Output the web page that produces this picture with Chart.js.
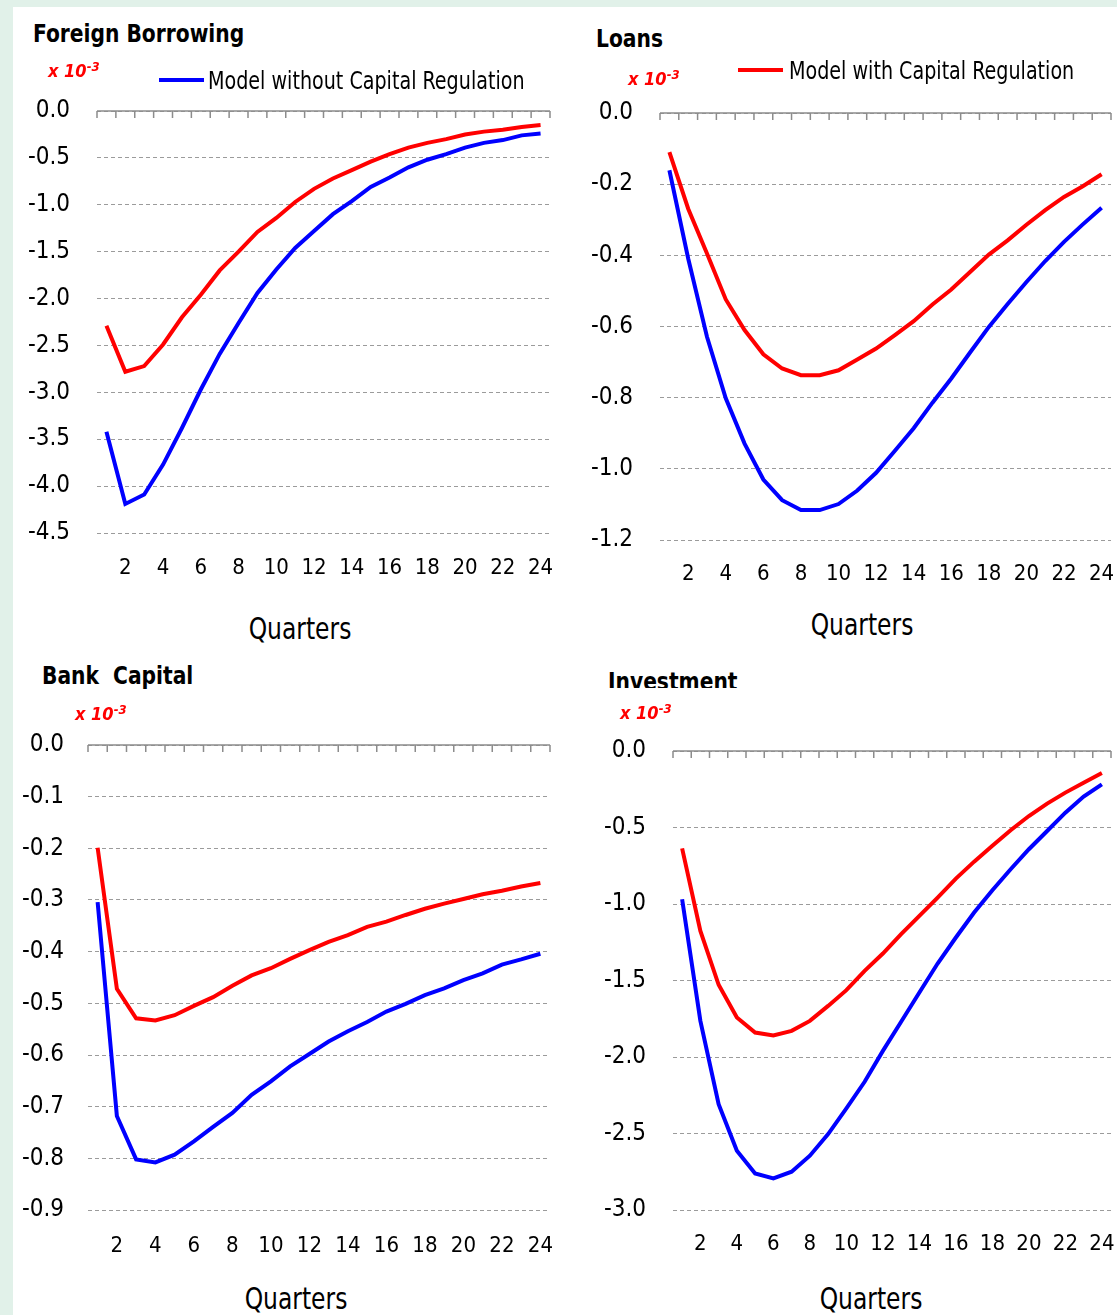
<html><head>
<meta charset="UTF-8">
<title>Impulse responses: with and without capital regulation</title>
<style>
  body {
    margin: 0;
    background-color: #e1f1e9;
  }
  #page {
    position: relative;
    width: 1117px;
    height: 1315px;
    overflow: hidden;
  }
  #sheet {
    position: absolute;
    left: 13px;
    top: 7px;
    right: 0;
    bottom: 0;
    background-color: #ffffff;
  }
  canvas {
    position: absolute;
  }
  .txt {
    position: absolute;
    font-family: "Liberation Sans Narrow", "DejaVu Sans Condensed", sans-serif;
    color: #000;
    white-space: pre;
    line-height: 1;
    transform-origin: left center;
  }
  .title {
    font-weight: bold;
    font-size: 25px;
    transform: scaleX(0.9);
  }
  .unit {
    color: #ff0000;
    font-weight: bold;
    font-style: italic;
    font-size: 18px;
  }
  .unit sup {
    font-size: 13px;
    vertical-align: 6px;
  }
  .legend {
    font-size: 25px;
    transform: scaleX(0.85);
  }
  .key {
    position: absolute;
    height: 4px;
  }
  .quarters {
    font-size: 31px;
    transform-origin: center center;
    transform: translateX(-50%) scaleX(0.84);
  }
  #invClip {
    position: absolute;
    left: 600px;
    top: 668px;
    width: 200px;
    height: 20px;
    overflow: hidden;
  }
</style>
<script src="https://cdn.jsdelivr.net/npm/chart.js"></script>
</head>
<body>
<div id="page">
  <div id="sheet"></div>

  <canvas id="fbChart"></canvas>
  <canvas id="loansChart"></canvas>
  <canvas id="bcChart"></canvas>
  <canvas id="invChart"></canvas>

  <div class="txt title" style="left:33px; top:21px;">Foreign Borrowing</div>
  <div class="txt unit" style="left:48px; top:60px;">x 10<sup>-3</sup></div>
  <div class="key" style="left:159px; top:78px; width:45px; background:#0000ff;"></div>
  <div class="txt legend" style="left:208px; top:68px;">Model without Capital Regulation</div>

  <div class="txt title" style="left:596px; top:26px;">Loans</div>
  <div class="txt unit" style="left:628px; top:68px;">x 10<sup>-3</sup></div>
  <div class="key" style="left:738px; top:68px; width:45px; background:#ff0000;"></div>
  <div class="txt legend" style="left:789px; top:58px;">Model with Capital Regulation</div>

  <div class="txt title" style="left:42px; top:663px;">Bank  Capital</div>
  <div class="txt unit" style="left:75px; top:703px;">x 10<sup>-3</sup></div>

  <div id="invClip"><div class="txt title" style="left:8px; top:1px;">Investment</div></div>
  <div class="txt unit" style="left:620px; top:702px;">x 10<sup>-3</sup></div>

  <div class="txt quarters" style="left:300px; top:613px;">Quarters</div>
  <div class="txt quarters" style="left:862px; top:609px;">Quarters</div>
  <div class="txt quarters" style="left:296px; top:1283px;">Quarters</div>
  <div class="txt quarters" style="left:871px; top:1283px;">Quarters</div>
</div>

<script>
const quarters = [1, 2, 3, 4, 5, 6, 7, 8, 9, 10, 11, 12, 13, 14, 15, 16, 17, 18, 19, 20, 21, 22, 23, 24];

// Foreign borrowing (x 10^-3)
const fbWithout = [-3.42, -4.19, -4.09, -3.77, -3.38, -2.97, -2.59, -2.26, -1.94, -1.69, -1.46, -1.28,
                   -1.10, -0.96, -0.81, -0.71, -0.60, -0.52, -0.46, -0.39, -0.34, -0.31, -0.26, -0.24];
const fbWith = [-2.29, -2.78, -2.72, -2.49, -2.20, -1.96, -1.70, -1.50, -1.29, -1.14, -0.97, -0.83,
                -0.72, -0.63, -0.54, -0.46, -0.39, -0.34, -0.30, -0.25, -0.22, -0.20, -0.17, -0.15];

// Loans
const loansWithout = [-0.161, -0.409, -0.629, -0.802, -0.929, -1.030, -1.088, -1.116, -1.116, -1.099, -1.061, -1.011,
                      -0.949, -0.886, -0.814, -0.746, -0.673, -0.601, -0.537, -0.475, -0.416, -0.362, -0.313, -0.266];
const loansWith = [-0.110, -0.269, -0.395, -0.524, -0.610, -0.678, -0.718, -0.737, -0.737, -0.723, -0.693, -0.662,
                   -0.624, -0.585, -0.538, -0.496, -0.447, -0.398, -0.358, -0.314, -0.273, -0.236, -0.206, -0.172];

// Bank capital
const bcWithout = [-0.304, -0.718, -0.802, -0.808, -0.793, -0.767, -0.739, -0.712, -0.677, -0.651, -0.622, -0.598,
                   -0.574, -0.554, -0.536, -0.516, -0.501, -0.484, -0.471, -0.455, -0.442, -0.425, -0.415, -0.404];
const bcWith = [-0.199, -0.472, -0.529, -0.533, -0.523, -0.505, -0.488, -0.466, -0.446, -0.432, -0.414, -0.397,
                -0.381, -0.368, -0.352, -0.342, -0.329, -0.317, -0.307, -0.298, -0.289, -0.282, -0.274, -0.267];

// Investment
const invWithout = [-0.969, -1.764, -2.308, -2.613, -2.761, -2.793, -2.750, -2.645, -2.504, -2.336, -2.162, -1.960,
                    -1.770, -1.578, -1.389, -1.219, -1.056, -0.910, -0.773, -0.642, -0.523, -0.403, -0.298, -0.218];
const invWith = [-0.636, -1.176, -1.528, -1.742, -1.840, -1.859, -1.829, -1.764, -1.666, -1.563, -1.437, -1.324,
                 -1.197, -1.078, -0.958, -0.834, -0.723, -0.620, -0.518, -0.425, -0.344, -0.272, -0.207, -0.144];

Chart.defaults.font.family = "'Liberation Sans Narrow', 'DejaVu Sans Condensed', sans-serif";
Chart.defaults.color = '#000';

// solid axis along y = 0 with small tick marks hanging down between the quarters
const zeroAxis = {
  id: 'zeroAxis',
  beforeDatasetsDraw(chart) {
    const {ctx, chartArea, scales} = chart;
    const xs = scales.x;
    const y0 = scales.y.getPixelForValue(0);
    const n = quarters.length;
    ctx.save();
    ctx.strokeStyle = '#8c8c8c';
    ctx.lineWidth = 1.5;
    ctx.beginPath();
    ctx.moveTo(chartArea.left, y0);
    ctx.lineTo(chartArea.right, y0);
    for (let i = 0; i <= n; i++) {
      let x;
      if (i === 0) x = chartArea.left;
      else if (i === n) x = chartArea.right;
      else x = (xs.getPixelForValue(i - 1) + xs.getPixelForValue(i)) / 2;
      ctx.moveTo(x, y0);
      ctx.lineTo(x, y0 + 7);
    }
    ctx.stroke();
    ctx.restore();
  }
};

function drawPanel(id, box, yMin, yStep, withReg, withoutReg) {
  const cv = document.getElementById(id);
  // padT / padR must exceed the label overflow plus tick padding, or Chart.js shrinks the plot
  const padL = 90, padT = 50, padR = 28, axisH = 60;
  const left = box.left - padL;
  const top = box.top - padT;
  cv.width = box.right - left + padR;
  cv.height = box.bottom - top + axisH;
  cv.style.left = left + 'px';
  cv.style.top = top + 'px';

  new Chart(cv, {
    type: 'line',
    data: {
      labels: quarters,
      datasets: [{
        label: 'Model without Capital Regulation',
        data: withoutReg,
        borderColor: '#0000ff',
        borderWidth: 4,
        pointRadius: 0,
        tension: 0
      }, {
        label: 'Model with Capital Regulation',
        data: withReg,
        borderColor: '#ff0000',
        borderWidth: 4,
        pointRadius: 0,
        tension: 0
      }]
    },
    options: {
      responsive: false,
      animation: false,
      devicePixelRatio: 1,
      layout: { padding: { left: 0, top: padT, right: padR, bottom: 0 } },
      plugins: { legend: { display: false }, tooltip: { enabled: false } },
      scales: {
        x: {
          type: 'category',
          offset: true,
          grid: { display: false },
          border: { display: false },
          afterFit: s => { s.height = axisH; },
          ticks: {
            autoSkip: false,
            maxRotation: 0,
            padding: box.xPad,
            font: { size: 22 },
            callback: (v, i) => quarters[i] % 2 === 0 ? String(quarters[i]) : ''
          }
        },
        y: {
          min: yMin,
          max: 0,
          afterFit: s => { s.width = padL; },
          ticks: {
            stepSize: yStep,
            padding: box.left - box.labelRight,
            font: { size: 24 },
            callback: v => v.toFixed(1)
          },
          grid: { color: '#9b9b9b', lineWidth: 1, drawTicks: false },
          border: { display: false, dash: [4, 3] }
        }
      }
    },
    plugins: [zeroAxis]
  });
}

window.onload = function() {
  drawPanel('fbChart', { left: 97, right: 550, top: 111, bottom: 533, labelRight: 70, xPad: 14 }, -4.5, 0.5, fbWith, fbWithout);
  drawPanel('loansChart', { left: 660, right: 1111, top: 113, bottom: 540, labelRight: 633, xPad: 13 }, -1.2, 0.2, loansWith, loansWithout);
  drawPanel('bcChart', { left: 88, right: 550, top: 745, bottom: 1210, labelRight: 64, xPad: 15 }, -0.9, 0.1, bcWith, bcWithout);
  drawPanel('invChart', { left: 673, right: 1111, top: 751, bottom: 1210, labelRight: 646, xPad: 13 }, -3.0, 0.5, invWith, invWithout);
};
</script>
</body></html>
